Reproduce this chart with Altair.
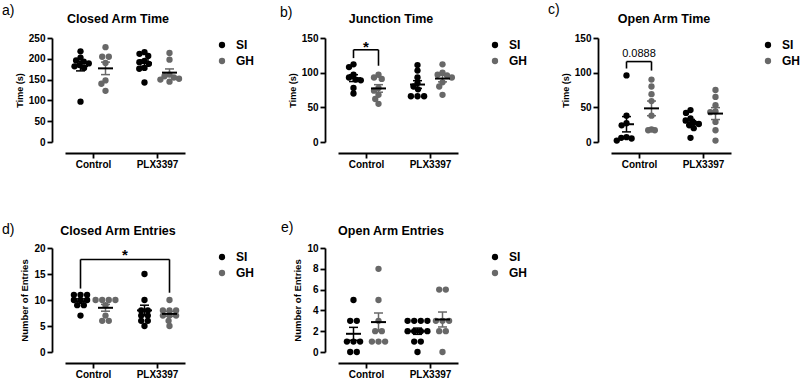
import math
import numpy as np
import pandas as pd
import altair as alt

# ---------------- data ----------------
categories = ["Control", "PLX3397"]
groups = ["SI", "GH"]

closed_time_control_si = [218, 203, 196, 193, 189, 185, 182, 178, 97]
closed_time_control_gh = [228, 205, 205, 190, 148, 140, 123]
closed_time_plx_si = [216, 212, 207, 195, 192, 188, 178, 176, 143]
closed_time_plx_gh = [214, 198, 162, 158, 155, 152, 150, 145]

junction_time_control_si = [112, 108, 97, 93, 90, 89, 78, 70]
junction_time_control_gh = [97, 93, 91, 78, 74, 68, 62, 55]
junction_time_plx_si = [111, 103, 93, 85, 80, 76, 66, 66, 66]
junction_time_plx_gh = [112, 100, 97, 96, 93, 86, 80, 68]

open_time_control_si = [96, 38, 27, 24, 7, 6, 5, 2]
open_time_control_gh = [90, 80, 69, 59, 38, 18, 17, 17]
open_time_plx_si = [46, 42, 34, 31, 28, 26, 24, 20, 6]
open_time_plx_gh = [75, 65, 53, 44, 43, 29, 17, 2]

closed_entries_control_si = [11, 11, 11, 10, 10, 10, 9, 9, 7]
closed_entries_control_gh = [10, 10, 10, 10, 9, 7, 6, 6]
closed_entries_plx_si = [15, 10, 8, 8, 7, 7, 6, 6, 5]
closed_entries_plx_gh = [10, 8, 8, 8, 7, 7, 7, 6, 5]

open_entries_control_si = [5, 3, 3, 1, 1, 1, 0, 0]
open_entries_control_gh = [8, 5, 3, 2, 2, 1, 1, 1]
open_entries_plx_si = [3, 3, 3, 3, 2, 2, 2, 2, 1, 1, 0]
open_entries_plx_gh = [6, 6, 3, 3, 3, 2, 2, 0]

# ---------------- style ----------------
FONT = "Liberation Sans"
PLOT_W, PLOT_H = 120, 104
X_DOMAIN = [-0.4375, 1.4375]
PX_PER_X = PLOT_W / (X_DOMAIN[1] - X_DOMAIN[0])
GROUP_SHIFT = {"SI": -12.5 / PX_PER_X, "GH": 12.5 / PX_PER_X}
COLORS = {"SI": "#000000", "GH": "#686868"}
DOT_D = 6.6
MEAN_HALF = 7.5 / PX_PER_X
CAP_HALF = 4.5 / PX_PER_X


def swarm(values, ppu):
    """Deterministic beeswarm offsets (pixels) so dots barely overlap."""
    offs = [0.0] * len(values)
    placed = []
    by_val = {}
    for i, v in enumerate(values):
        by_val.setdefault(v, []).append(i)
    coll = DOT_D * 0.8
    for v in sorted(by_val, reverse=True):
        ids = by_val[v]
        y = v * ppu
        if len(ids) > 1:
            n = len(ids)
            for k, i in enumerate(ids):
                xo = (k - (n - 1) / 2) * DOT_D
                offs[i] = xo
                placed.append((xo, y))
        else:
            cands = [0.0]
            for px, py in placed:
                dy = abs(py - y)
                if dy < coll:
                    dx = math.sqrt(coll * coll - dy * dy)
                    cands += [px + dx, px - dx]
            cands.sort(key=lambda c: (abs(c), c))
            best = cands[-1]
            for c in cands:
                if all((c - px) ** 2 + (y - py) ** 2 >= coll * coll - 1e-6 for px, py in placed):
                    best = c
                    break
            offs[ids[0]] = best
            placed.append((best, y))
    return offs


panels = [
    dict(label="a)", title="Closed Arm Time", ytitle="Time (s)", ymax=250, ticks=[0, 50, 100, 150, 200, 250],
         data={("Control", "SI"): closed_time_control_si, ("Control", "GH"): closed_time_control_gh,
               ("PLX3397", "SI"): closed_time_plx_si, ("PLX3397", "GH"): closed_time_plx_gh},
         brackets=[], texts=[], xoff=11, label_xy=(-63, -27), title_y=-15, legend_y=1, yts=9),
    dict(label="b)", title="Junction Time", ytitle="Time (s)", ymax=150, ticks=[0, 50, 100, 150],
         data={("Control", "SI"): junction_time_control_si, ("Control", "GH"): junction_time_control_gh,
               ("PLX3397", "SI"): junction_time_plx_si, ("PLX3397", "GH"): junction_time_plx_gh},
         brackets=[(("Control", "SI"), ("Control", "GH"), 133, 121, 110)],
         texts=[(0.0, 142, "*", 15, "bold")], xoff=11, label_xy=(-58, -25), title_y=-15, legend_y=1, yts=9),
    dict(label="c)", title="Open Arm Time", ytitle="Time (s)", ymax=150, ticks=[0, 50, 100, 150],
         data={("Control", "SI"): open_time_control_si, ("Control", "GH"): open_time_control_gh,
               ("PLX3397", "SI"): open_time_plx_si, ("PLX3397", "GH"): open_time_plx_gh},
         brackets=[(("Control", "SI"), ("Control", "GH"), 116, 106, 103)],
         texts=[(0.0, 127, "0.0888", 11, "normal")], xoff=11, label_xy=(-63, -28), title_y=-15, legend_y=1, yts=9),
    dict(label="d)", title="Closed Arm Entries", ytitle="Number of Entries", ymax=20, ticks=[0, 5, 10, 15, 20],
         data={("Control", "SI"): closed_entries_control_si, ("Control", "GH"): closed_entries_control_gh,
               ("PLX3397", "SI"): closed_entries_plx_si, ("PLX3397", "GH"): closed_entries_plx_gh},
         brackets=[(("Control", "SI"), ("PLX3397", "GH"), 17.8, 12.2, 11.4)],
         texts=[(0.5, 19.2, "*", 15, "bold")], xoff=11, label_xy=(-63, -18), title_y=-13, legend_y=3, yts=9.5),
    dict(label="e)", title="Open Arm Entries", ytitle="Number of Entries", ymax=10, ticks=[0, 2, 4, 6, 8, 10],
         data={("Control", "SI"): open_entries_control_si, ("Control", "GH"): open_entries_control_gh,
               ("PLX3397", "SI"): open_entries_plx_si, ("PLX3397", "GH"): open_entries_plx_gh},
         brackets=[], texts=[], xoff=11, label_xy=(-57, -20), title_y=-13, legend_y=3, yts=9.5),
]


def xpos(cat, grp):
    return categories.index(cat) + GROUP_SHIFT[grp]


def make_panel(p):
    ymax = p["ymax"]
    ppu = PLOT_H / ymax
    pts, means, errs = [], [], []
    for cat in categories:
        for g in groups:
            vals = p["data"][(cat, g)]
            xc = xpos(cat, g)
            for v, o in zip(vals, swarm(vals, ppu)):
                pts.append(dict(cat=cat, grp=g, value=v, x=xc + o / PX_PER_X))
            arr = np.array(vals, dtype=float)
            m = arr.mean()
            se = arr.std(ddof=1) / math.sqrt(len(arr))
            means.append(dict(x=xc - MEAN_HALF, x2=xc + MEAN_HALF, y=m, y2=m))
            col = COLORS[g]
            errs.append(dict(x=xc, x2=xc, y=m - se, y2=m + se, col=col))
            errs.append(dict(x=xc - CAP_HALF, x2=xc + CAP_HALF, y=m - se, y2=m - se, col=col))
            errs.append(dict(x=xc - CAP_HALF, x2=xc + CAP_HALF, y=m + se, y2=m + se, col=col))
    df_pts = pd.DataFrame(pts)
    df_mean = pd.DataFrame(means)
    df_err = pd.DataFrame(errs)

    xscale = alt.Scale(domain=X_DOMAIN, nice=False, zero=False)
    yscale = alt.Scale(domain=[0, ymax], nice=False, zero=True)
    label_expr = "[" + ",".join("'%s'" % c for c in categories) + "][datum.value]"
    xaxis = alt.Axis(values=[0, 1], labelExpr=label_expr, offset=p["xoff"], title=None,
                     labelPadding=1, labelAngle=0, grid=False, labelBaseline="top")
    yaxis = alt.Axis(values=p["ticks"], offset=13, title=p["ytitle"], titlePadding=4,
                     labelPadding=2, grid=False, titleFontSize=p["yts"])

    def X(f):
        return alt.X(f, type="quantitative", scale=xscale, axis=xaxis)

    def Y(f):
        return alt.Y(f, type="quantitative", scale=yscale, axis=yaxis)

    points = alt.Chart(df_pts).mark_circle(size=40, opacity=1).encode(
        x=X("x"), y=Y("value"),
        color=alt.Color("grp:N", scale=alt.Scale(domain=groups, range=[COLORS[g] for g in groups]),
                        legend=alt.Legend(orient="none", legendX=151, legendY=p["legend_y"], title=None,
                                          labelFont=FONT, labelFontSize=12, labelFontWeight="bold",
                                          labelColor="black", symbolType="circle", symbolSize=40,
                                          symbolStrokeWidth=0, rowPadding=4, labelOffset=8, padding=0)),
    )
    err = alt.Chart(df_err).mark_rule(strokeWidth=1.5).encode(
        x=X("x"), x2="x2", y=Y("y"), y2="y2", stroke=alt.Stroke("col:N", scale=None))
    mean = alt.Chart(df_mean).mark_rule(strokeWidth=2, color="black").encode(
        x=X("x"), x2="x2", y=Y("y"), y2="y2")
    layers = [points, err, mean]

    if p["brackets"]:
        br = []
        for a, b, top, la, lb in p["brackets"]:
            xa, xb = xpos(*a), xpos(*b)
            br.append(dict(x=xa, x2=xb, y=top, y2=top))
            br.append(dict(x=xa, x2=xa, y=top, y2=la))
            br.append(dict(x=xb, x2=xb, y=top, y2=lb))
        layers.append(alt.Chart(pd.DataFrame(br)).mark_rule(strokeWidth=1.6, color="black").encode(
            x=X("x"), x2="x2", y=Y("y"), y2="y2"))
    for tx, ty, t, fs, fw in p["texts"]:
        layers.append(alt.Chart(pd.DataFrame([dict(x=tx, y=ty, t=t)])).mark_text(
            font=FONT, fontSize=fs, fontWeight=fw, color="black", align="center", baseline="middle",
            dy=(3 if t == "*" else 0)).encode(x=X("x"), y=Y("y"), text="t:N"))
    lx, ly = p["label_xy"]
    layers.append(alt.Chart(pd.DataFrame({"t": [p["label"]]})).mark_text(
        font=FONT, fontSize=14, color="black", align="left", baseline="middle").encode(
        x=alt.value(lx), y=alt.value(ly), text="t:N"))
    # panel title, centred over axis + plot
    layers.append(alt.Chart(pd.DataFrame({"t": [p["title"]]})).mark_text(
        font=FONT, fontSize=12.5, fontWeight="bold", color="black", align="center",
        baseline="alphabetic").encode(x=alt.value(PLOT_W / 2 - 7), y=alt.value(p["title_y"]), text="t:N"))

    return alt.layer(*layers).properties(width=PLOT_W, height=PLOT_H)


chart = alt.concat(*[make_panel(p) for p in panels], columns=3,
                   spacing={"row": 106, "column": 153}, bounds="flush").resolve_scale(
    x="independent", y="independent", color="independent").properties(
    padding={"left": 2, "top": 3, "right": 0, "bottom": 0}, background="white"
).configure_view(strokeWidth=0).configure_axis(
    domainColor="black", domainWidth=1.8, tickColor="black", tickWidth=1.8, tickSize=5,
    labelColor="black", labelFont=FONT, labelFontWeight="bold", labelFontSize=10,
    titleFont=FONT, titleFontWeight="bold", titleColor="black", grid=False,
)

chart.save("out.html", embed_options={"renderer": "svg", "actions": False})
